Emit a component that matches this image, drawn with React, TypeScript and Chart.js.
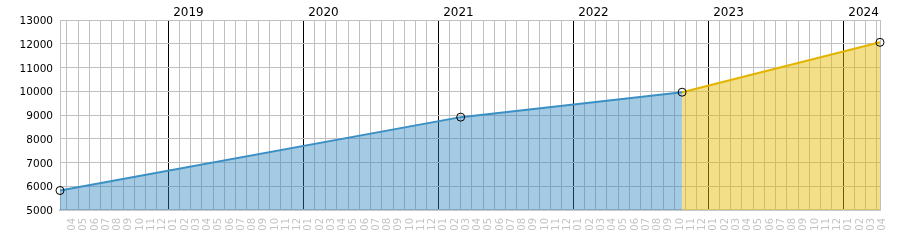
import React, { useEffect, useRef } from 'react';
import { Chart, registerables } from 'chart.js';

Chart.register(...registerables);

// Data
const BASE_YEAR = 2018;
const actualDates = ['2018-03-13', '2021-03-01', '2022-10-22'];
const actualValues = [5820, 8910, 9960];
const forecastDates = ['2022-10-22', '2024-04-09'];
const forecastValues = [9960, 12060];
const monthLabels = ['01', '02', '03', '04', '05', '06', '07', '08', '09', '10', '11', '12'];
const yearLabels = ['2018', '2019', '2020', '2021', '2022', '2023', '2024'];
const yTickValues = [5000, 6000, 7000, 8000, 9000, 10000, 11000, 12000, 13000];

function toMonths(s: string): number {
  const [y, m, d] = s.split('-').map(Number);
  const dim = new Date(y, m, 0).getDate();
  return (y - BASE_YEAR) * 12 + (m - 1) + (d - 1) / dim;
}

const FONT = 'DejaVu Sans';

export default function App() {
  const ref = useRef<HTMLCanvasElement>(null);
  useEffect(() => {
    const xMin = toMonths(actualDates[0]);
    const xMax = toMonths(forecastDates[forecastDates.length - 1]);
    const chart = new Chart(ref.current as HTMLCanvasElement, {
      type: 'line',
      data: {
        datasets: [
          {
            data: actualDates.map((d, i) => ({ x: toMonths(d), y: actualValues[i] })),
            borderColor: '#3a8fc4',
            backgroundColor: 'rgba(40,130,190,0.42)',
            borderWidth: 2,
            fill: 'start',
            tension: 0,
            pointRadius: 4,
            pointBorderColor: '#000',
            pointBackgroundColor: 'transparent',
            pointBorderWidth: 1,
            clip: false as any,
          },
          {
            data: forecastDates.map((d, i) => ({ x: toMonths(d), y: forecastValues[i] })),
            borderColor: '#e2b400',
            backgroundColor: 'rgba(228,187,0,0.47)',
            borderWidth: 2,
            fill: 'start',
            tension: 0,
            pointRadius: (c: any) => (c.dataIndex === 0 ? 0 : 4),
            pointBorderColor: '#000',
            pointBackgroundColor: 'transparent',
            pointBorderWidth: 1,
            clip: false as any,
          },
        ],
      },
      options: {
        responsive: false,
        animation: false,
        devicePixelRatio: 1,
        layout: { padding: { left: 0, right: 20, top: 0, bottom: 0 } },
        plugins: { legend: { display: false }, tooltip: { enabled: false } },
        scales: {
          x: {
            type: 'linear',
            position: 'bottom',
            min: xMin,
            max: xMax,
            afterBuildTicks: (s: any) => {
              const t: any[] = [];
              for (let m = Math.ceil(xMin); m <= Math.floor(xMax); m++) t.push({ value: m });
              t.push({ value: xMax });
              s.ticks = t;
            },
            afterFit: (s: any) => {
              s.height = 40;
            },
            grid: {
              color: (c: any) =>
                c.tick && Number.isInteger(c.tick.value) && c.tick.value % 12 === 0 ? '#000' : '#c0c0c0',
              lineWidth: 1,
              drawTicks: false,
            },
            border: { color: '#c8c8c8', width: 2 },
            ticks: {
              autoSkip: false,
              minRotation: 90,
              maxRotation: 90,
              labelOffset: 5.6,
              padding: 8,
              color: '#c4c4c4',
              font: { family: FONT, size: 10 },
              callback: (v: any) => (Number.isInteger(v) ? monthLabels[((v % 12) + 12) % 12] : ''),
            },
          },
          x2: {
            type: 'linear',
            position: 'top',
            min: xMin,
            max: xMax,
            afterBuildTicks: (s: any) => {
              const t: any[] = [];
              for (let m = Math.ceil(xMin / 12) * 12; m <= xMax; m += 12) t.push({ value: m });
              s.ticks = t;
            },
            afterFit: (s: any) => {
              s.height = 20;
            },
            grid: { display: false, drawTicks: false },
            border: { display: false },
            ticks: {
              autoSkip: false,
              align: 'start',
              maxRotation: 0,
              minRotation: 0,
              labelOffset: 5,
              padding: 0,
              color: '#000',
              font: { family: FONT, size: 12 },
              callback: (v: any) => yearLabels[Math.round(v / 12)],
            },
          },
          y: {
            type: 'linear',
            min: yTickValues[0],
            max: yTickValues[yTickValues.length - 1],
            afterBuildTicks: (s: any) => {
              s.ticks = yTickValues.map((v) => ({ value: v }));
            },
            afterFit: (s: any) => {
              s.width = 60;
            },
            grid: { color: '#c0c0c0', drawTicks: false },
            border: { color: '#c0c0c0' },
            ticks: {
              padding: 7,
              labelOffset: 1.5,
              color: '#000',
              font: { family: FONT, size: 10.5 },
              callback: (v: any) => String(v),
            },
          },
        },
      } as any,
    });
    return () => chart.destroy();
  }, []);
  return (
    <div style={{ position: 'absolute', left: 0, top: 0, width: 900, height: 250 }}>
      <canvas ref={ref} width={900} height={250} style={{ display: 'block' }} />
    </div>
  );
}
